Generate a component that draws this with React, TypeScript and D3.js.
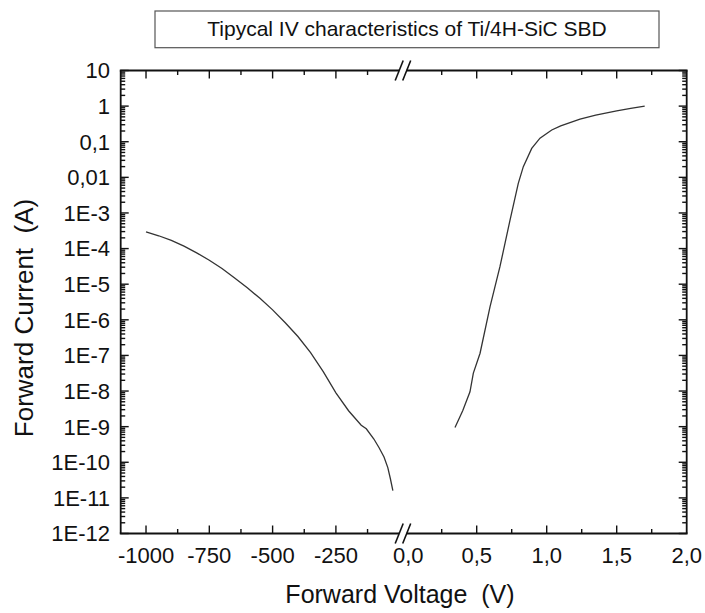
import React from "react";
import * as d3 from "d3";

// reverse branch (V, A) and forward branch (V, A)
const reverseV = [-1000, -950, -900, -850, -800, -750, -700, -650, -600, -550, -500, -450, -400, -350, -300, -250, -200, -150, -130, -100, -80, -60, -45, -35, -25];
const reverseI = [2.95e-4, 2.29e-4, 1.7e-4, 1.17e-4, 7.6e-5, 4.7e-5, 2.75e-5, 1.5e-5, 7.9e-6, 4.0e-6, 1.9e-6, 8.3e-7, 3.4e-7, 1.2e-7, 3.5e-8, 8.9e-9, 2.8e-9, 1.1e-9, 8.7e-10, 4.5e-10, 2.6e-10, 1.4e-10, 7.1e-11, 3.5e-11, 1.6e-11];

const forwardV = [0.345, 0.4, 0.452, 0.476, 0.524, 0.595, 0.666, 0.738, 0.797, 0.833, 0.893, 0.952, 1.036, 1.1, 1.238, 1.35, 1.5, 1.6, 1.7];
const forwardI = [9.5e-10, 2.8e-9, 9.5e-9, 3.2e-8, 1.15e-7, 2.3e-6, 3.1e-5, 6.3e-4, 6.8e-3, 0.02, 0.065, 0.126, 0.214, 0.28, 0.43, 0.56, 0.74, 0.87, 1.0];

const leftTicks = [-1000, -750, -500, -250];
const leftTickLabels = ["-1000", "-750", "-500", "-250"];
const leftMinor = [-875, -625, -375, -125];
const rightTicks = [0, 0.5, 1.0, 1.5, 2.0];
const rightTickLabels = ["0,0", "0,5", "1,0", "1,5", "2,0"];
const rightMinor = [0.25, 0.75, 1.25, 1.75];

const yTicks = [10, 1, 0.1, 0.01, 1e-3, 1e-4, 1e-5, 1e-6, 1e-7, 1e-8, 1e-9, 1e-10, 1e-11, 1e-12];
const yTickLabels = ["10", "1", "0,1", "0,01", "1E-3", "1E-4", "1E-5", "1E-6", "1E-7", "1E-8", "1E-9", "1E-10", "1E-11", "1E-12"];

const title = "Tipycal IV characteristics of Ti/4H-SiC SBD";
const xTitle = "Forward Voltage  (V)";
const yTitle = "Forward Current  (A)";

const W = 705;
const H = 613;
const left = 120.7;
const right = 686.7;
const top = 70.5;
const bottom = 533.5;
const breakL = 399.2;
const breakR = 406.7;

const font = "'Liberation Sans', Arial, sans-serif";

export default function App() {
  const xl = d3.scaleLinear().domain([-1100, 0]).range([left, breakL]);
  const xr = d3.scaleLinear().domain([0, 2]).range([breakR, right]);
  const y = d3.scaleLog().domain([1e-12, 10]).range([bottom, top]);

  const revLine = d3.line<number>().x((_, i) => xl(reverseV[i])).y((d) => y(d));
  const fwdLine = d3.line<number>().x((_, i) => xr(forwardV[i])).y((d) => y(d));

  const minorY: number[] = [];
  yTicks.slice(1).forEach((t) => {
    for (let k = 2; k <= 9; k++) minorY.push(t * k);
  });

  const majorLen = 8;
  const minorLen = 4.5;
  const xMajors = [...leftTicks.map((t) => xl(t)), ...rightTicks.slice(1, 4).map((t) => xr(t))];
  const xMinors = [...leftMinor.map((t) => xl(t)), ...rightMinor.map((t) => xr(t))];

  const slash = (cx: number, cy: number, key: string) => (
    <line key={key} x1={cx - 4} y1={cy + 10} x2={cx + 4} y2={cy - 10} stroke="#111" strokeWidth={1.6} />
  );

  return (
    <svg width={W} height={H} style={{ position: "absolute", left: 0, top: 0, background: "#fff" }}>
      <rect x={0} y={0} width={W} height={H} fill="#fff" />
      {/* title box */}
      <rect x={155} y={11} width={504} height={36.7} fill="none" stroke="#555" strokeWidth={1.2} />
      <text x={407} y={36} textAnchor="middle" fontFamily={font} fontSize={21} fill="#111">{title}</text>

      {/* curves */}
      <path d={revLine(reverseI) || ""} fill="none" stroke="#333" strokeWidth={1.3} />
      <path d={fwdLine(forwardI) || ""} fill="none" stroke="#333" strokeWidth={1.3} />

      {/* frame */}
      <g stroke="#111" strokeWidth={1.8} fill="none">
        <line x1={left} y1={top} x2={left} y2={bottom} />
        <line x1={right} y1={top} x2={right} y2={bottom} />
        <line x1={left - 0.9} y1={top} x2={breakL} y2={top} />
        <line x1={breakR} y1={top} x2={right + 0.9} y2={top} />
        <line x1={left - 0.9} y1={bottom} x2={breakL} y2={bottom} />
        <line x1={breakR} y1={bottom} x2={right + 0.9} y2={bottom} />
      </g>
      {slash(breakL, top, "s1")}
      {slash(breakR, top, "s2")}
      {slash(breakL, bottom, "s3")}
      {slash(breakR, bottom, "s4")}

      {/* x ticks */}
      <g stroke="#111" strokeWidth={1.4}>
        {xMajors.map((x, i) => (
          <g key={"xm" + i}>
            <line x1={x} x2={x} y1={bottom} y2={bottom - majorLen} />
            <line x1={x} x2={x} y1={top} y2={top + majorLen} />
          </g>
        ))}
        {xMinors.map((x, i) => (
          <g key={"xn" + i}>
            <line x1={x} x2={x} y1={bottom} y2={bottom - minorLen} />
            <line x1={x} x2={x} y1={top} y2={top + minorLen} />
          </g>
        ))}
      </g>

      {/* y ticks */}
      <g stroke="#111" strokeWidth={1.4}>
        {yTicks.map((t, i) => (
          <g key={"ym" + i}>
            <line x1={left} x2={left + majorLen} y1={y(t)} y2={y(t)} />
            <line x1={right} x2={right - majorLen} y1={y(t)} y2={y(t)} />
          </g>
        ))}
        {minorY.map((t, i) => (
          <g key={"yn" + i}>
            <line x1={left} x2={left + minorLen} y1={y(t)} y2={y(t)} />
            <line x1={right} x2={right - minorLen} y1={y(t)} y2={y(t)} />
          </g>
        ))}
      </g>

      {/* tick labels */}
      <g fontFamily={font} fontSize={22} fill="#111">
        {yTicks.map((t, i) => (
          <text key={"yl" + i} x={110} y={y(t)} dy="0.36em" textAnchor="end">{yTickLabels[i]}</text>
        ))}
        {leftTicks.map((t, i) => (
          <text key={"xll" + i} x={xl(t)} y={563} textAnchor="middle">{leftTickLabels[i]}</text>
        ))}
        {rightTicks.map((t, i) => (
          <text key={"xrl" + i} x={xr(t) + (i === 0 ? 1.5 : 0)} y={563} textAnchor="middle">{rightTickLabels[i]}</text>
        ))}
      </g>

      {/* axis titles */}
      <text x={400} y={603} textAnchor="middle" fontFamily={font} fontSize={25} fill="#111" style={{ whiteSpace: "pre" }}>{xTitle}</text>
      <text transform="translate(33,318) rotate(-90)" textAnchor="middle" fontFamily={font} fontSize={26} fill="#111" style={{ whiteSpace: "pre" }}>{yTitle}</text>
    </svg>
  );
}
